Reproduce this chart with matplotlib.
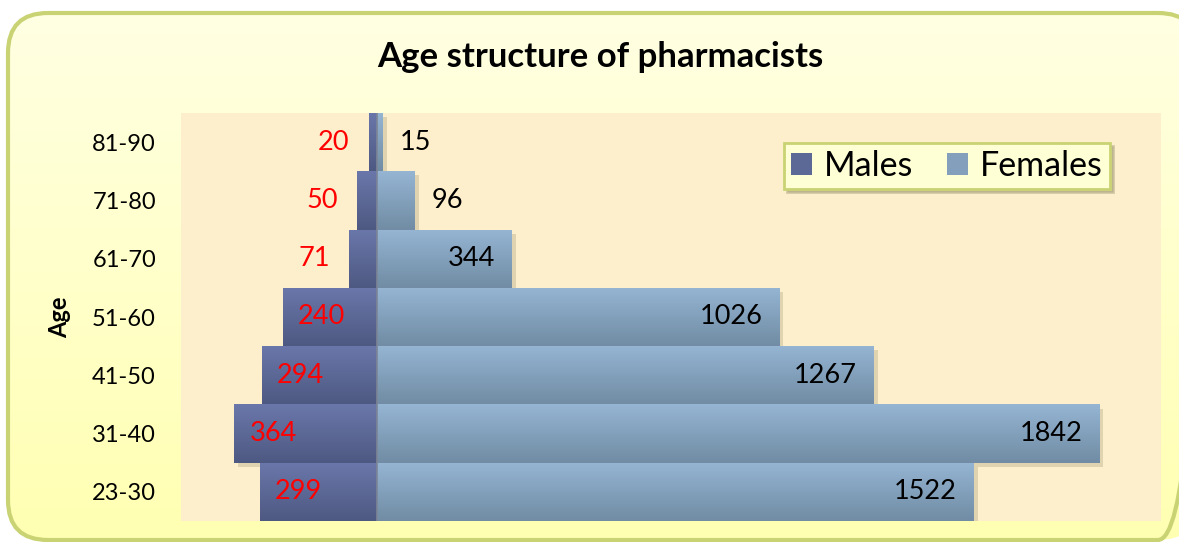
import numpy as np
import matplotlib
matplotlib.use("Agg")
import matplotlib.pyplot as plt
from matplotlib.patches import FancyBboxPatch, Patch
import matplotlib.patheffects as pe
from matplotlib.colors import LinearSegmentedColormap

plt.rcParams['font.family'] = ['Lato', 'DejaVu Sans']

# data
ages = ['23-30', '31-40', '41-50', '51-60', '61-70', '71-80', '81-90']
males = [299, 364, 294, 240, 71, 50, 20]
females = [1522, 1842, 1267, 1026, 344, 96, 15]

W, H = 1179, 542
fig = plt.figure(figsize=(W / 100, H / 100), dpi=100)
fig.patch.set_facecolor('white')

# rounded yellow frame with a vertical gradient
bg = fig.add_axes([0, 0, 1, 1], zorder=-10)
bg.set_xlim(0, W)
bg.set_ylim(H, 0)
bg.axis('off')
frame = FancyBboxPatch((8, 13), 1190, 527, boxstyle="round,pad=0,rounding_size=40",
                       facecolor='none', edgecolor='#C9D374', linewidth=3,
                       transform=bg.transData, zorder=3)
bg.add_patch(frame)
yel = LinearSegmentedColormap.from_list('yel', ['#FFFFE4', '#FFFFB2'])
grad = bg.imshow(np.linspace(0, 1, 256).reshape(-1, 1), cmap=yel, aspect='auto',
                 extent=[0, W, H, 0], zorder=1)
grad.set_clip_path(frame)

# plot area
ax = fig.add_axes([181 / W, 1 - 521 / H, 980 / W, 408 / H])
ax.set_facecolor('#FDEFCB')
for s in ax.spines.values():
    s.set_visible(False)

y = np.arange(len(ages))
shadow = [pe.SimplePatchShadow(offset=(3, -3), shadow_rgbFace='#8A8460', alpha=0.25), pe.Normal()]
bm = ax.barh(y, [-v for v in males], height=1.0, color='#5C6896', label='Males', zorder=2)
bf = ax.barh(y, females, height=1.0, color='#849FBC', label='Females', zorder=2)

cm_m = LinearSegmentedColormap.from_list('m', ['#6A77AA', '#4E5982'])
cm_f = LinearSegmentedColormap.from_list('f', ['#95B5D3', '#718CA4'])
g = np.linspace(0, 1, 64).reshape(-1, 1)
for bars, cmap in ((bm, cm_m), (bf, cm_f)):
    for b in bars:
        b.set_path_effects(shadow)
        x0, y0 = b.get_x(), b.get_y()
        x1, y1 = x0 + b.get_width(), y0 + b.get_height()
        im = ax.imshow(g, cmap=cmap, aspect='auto', origin='upper',
                       extent=[min(x0, x1), max(x0, x1), y0, y1], zorder=3)
        im.set_clip_path(b)

ax.axvline(0, color='#7C8596', lw=1.2, zorder=4)

# value labels
fs = 19.5
for yi, v in zip(y, males):
    if v >= 200:
        ax.annotate(str(v), (-v, yi), xytext=(11, 0), textcoords='offset points',
                    ha='left', va='center', color='red', fontsize=fs, zorder=5)
    else:
        ax.annotate(str(v), (-v, yi), xytext=(-14, 0), textcoords='offset points',
                    ha='right', va='center', color='red', fontsize=fs, zorder=5)
for yi, v in zip(y, females):
    if v >= 300:
        ax.annotate(str(v), (v, yi), xytext=(-12, 0), textcoords='offset points',
                    ha='right', va='center', color='black', fontsize=fs, zorder=5)
    else:
        ax.annotate(str(v), (v, yi), xytext=(12, 0), textcoords='offset points',
                    ha='left', va='center', color='black', fontsize=fs, zorder=5)

ax.set_xlim(-500, 2000)
ax.set_ylim(-0.5, len(ages) - 0.5)
ax.set_xticks([])
ax.set_yticks(y)
ax.set_yticklabels(ages, fontsize=17)
ax.tick_params(axis='y', length=0, pad=18)
ax.set_ylabel('Age', fontsize=17, fontweight='bold', labelpad=15)

handles = [Patch(facecolor='#5C6896', edgecolor='none'), Patch(facecolor='#849FBC', edgecolor='none')]
leg = ax.legend(handles, ['Males', 'Females'], ncol=2, loc='upper right',
                bbox_to_anchor=(0.948, 0.926), borderaxespad=0, fontsize=24.5,
                fancybox=False, shadow={'color': '#8A8460', 'alpha': 0.35},
                handlelength=0.62, handleheight=0.62, handletextpad=0.35,
                columnspacing=1.0, borderpad=0.2, framealpha=1)
leg.get_frame().set_facecolor('#FFFFD6')
leg.get_frame().set_edgecolor('#C9D374')
leg.get_frame().set_linewidth(2)

fig.text(600 / W, 1 - 57 / H, 'Age structure of pharmacists', ha='center', va='center',
         fontsize=25, fontweight='bold')

fig.savefig('out.png', dpi=100, facecolor=fig.get_facecolor())
